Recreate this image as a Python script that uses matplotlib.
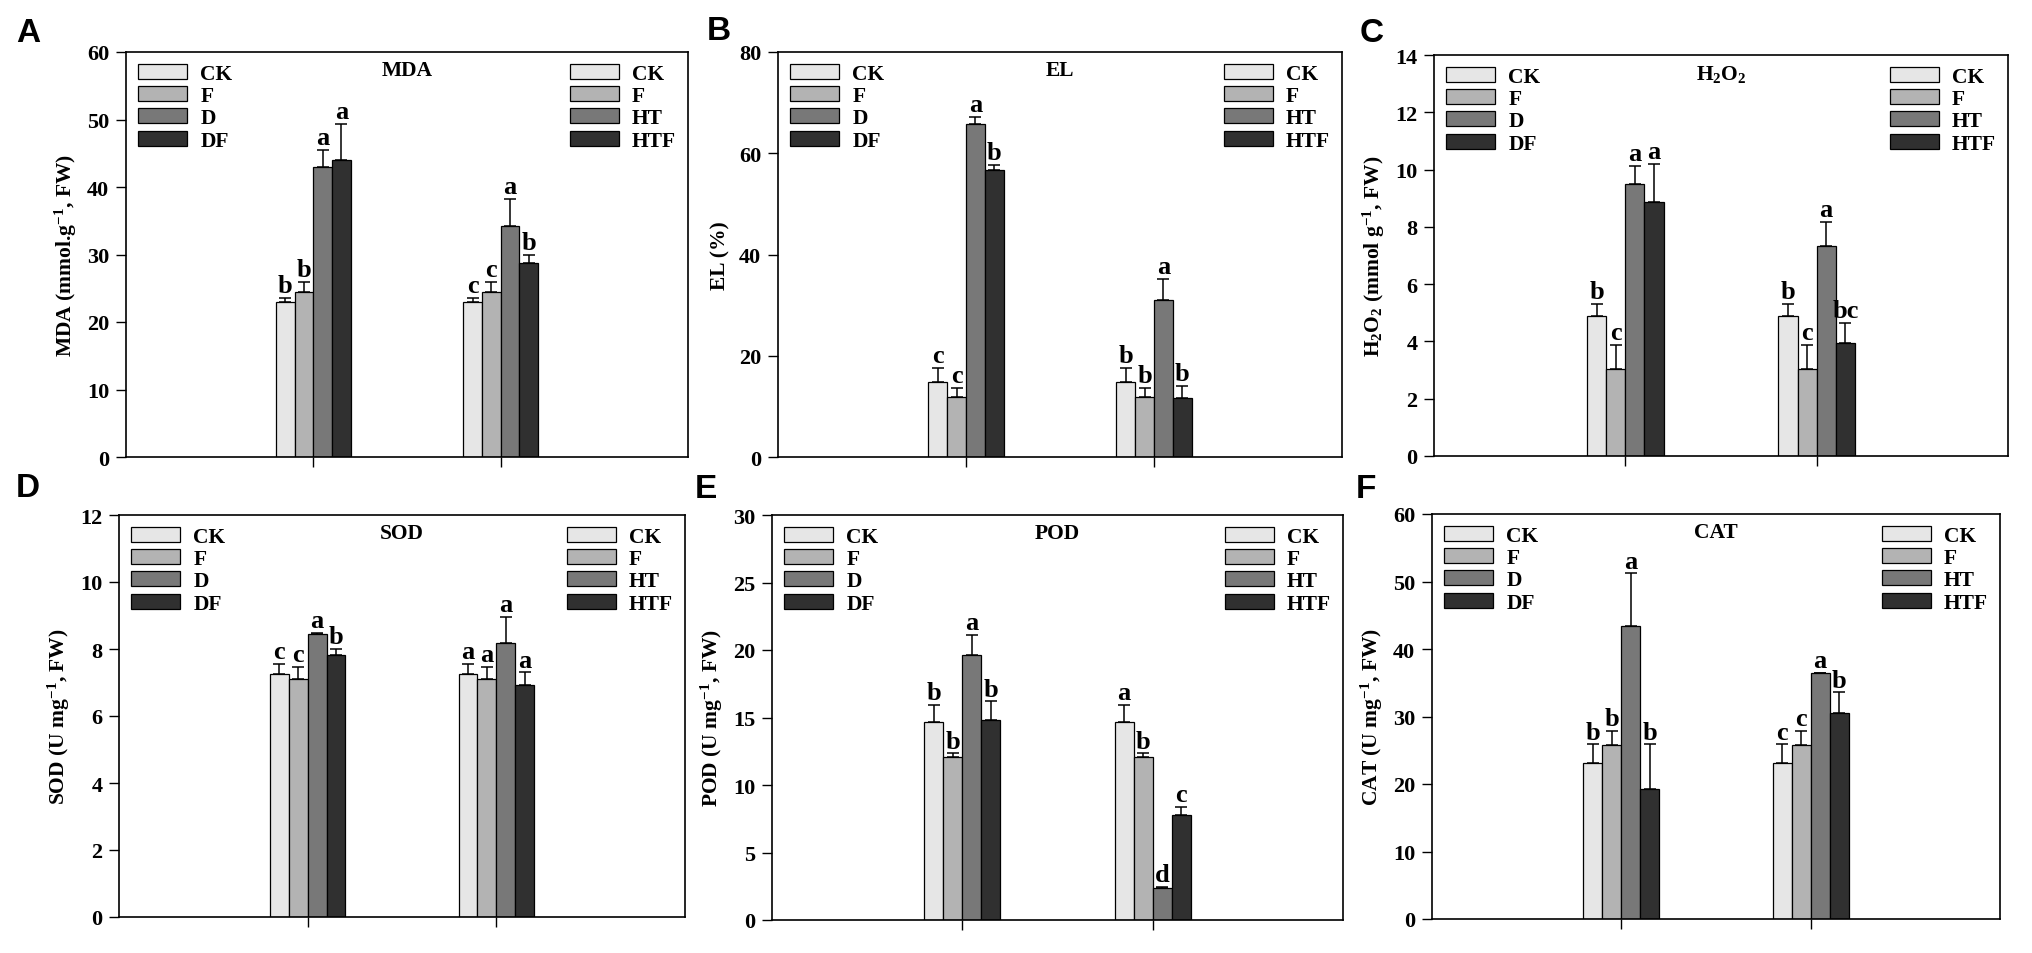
import numpy as np
import matplotlib
matplotlib.use('Agg')
from matplotlib import pyplot as plt

plt.rcParams['font.family'] = 'Liberation Serif'
plt.rcParams['font.weight'] = 'bold'
plt.rcParams['mathtext.fontset'] = 'custom'
plt.rcParams['mathtext.rm'] = 'Liberation Serif:bold'
plt.rcParams['mathtext.it'] = 'Liberation Serif:bold'
plt.rcParams['mathtext.bf'] = 'Liberation Serif:bold'

# treatments: group 1 (drought) and group 2 (high temperature)
labels_g1 = ['CK', 'F', 'D', 'DF']
labels_g2 = ['CK', 'F', 'HT', 'HTF']
bar_colors = ['#e6e6e6', '#b3b3b3', '#787878', '#303030']

# MDA
mda_g1 = [22.9, 24.4, 42.9, 44.0]
mda_g1_se = [0.7, 1.6, 2.6, 5.4]
mda_g2 = [22.9, 24.4, 34.2, 28.8]
mda_g2_se = [0.7, 1.6, 4.0, 1.2]
mda_let_g1 = ['b', 'b', 'a', 'a']
mda_let_g2 = ['c', 'c', 'a', 'b']

# EL
el_g1 = [14.8, 11.9, 65.8, 56.6]
el_g1_se = [2.8, 1.8, 1.4, 1.1]
el_g2 = [14.8, 11.9, 31.1, 11.7]
el_g2_se = [2.8, 1.8, 4.1, 2.4]
el_let_g1 = ['c', 'c', 'a', 'b']
el_let_g2 = ['b', 'b', 'a', 'b']

# H2O2
h2o2_g1 = [4.88, 3.03, 9.50, 8.88]
h2o2_g1_se = [0.42, 0.86, 0.62, 1.31]
h2o2_g2 = [4.88, 3.03, 7.32, 3.93]
h2o2_g2_se = [0.42, 0.86, 0.86, 0.73]
h2o2_let_g1 = ['b', 'c', 'a', 'a']
h2o2_let_g2 = ['b', 'c', 'a', 'bc']

# SOD
sod_g1 = [7.24, 7.11, 8.45, 7.81]
sod_g1_se = [0.32, 0.36, 0.04, 0.20]
sod_g2 = [7.24, 7.11, 8.18, 6.93]
sod_g2_se = [0.32, 0.36, 0.77, 0.37]
sod_let_g1 = ['c', 'c', 'a', 'b']
sod_let_g2 = ['a', 'a', 'a', 'a']

# POD
pod_g1 = [14.64, 12.07, 19.62, 14.79]
pod_g1_se = [1.28, 0.27, 1.52, 1.40]
pod_g2 = [14.64, 12.07, 2.38, 7.80]
pod_g2_se = [1.28, 0.27, 0.10, 0.56]
pod_let_g1 = ['b', 'b', 'a', 'b']
pod_let_g2 = ['a', 'b', 'd', 'c']

# CAT
cat_g1 = [23.16, 25.78, 43.41, 19.26]
cat_g1_se = [2.72, 2.07, 7.80, 6.62]
cat_g2 = [23.16, 25.78, 36.49, 30.57]
cat_g2_se = [2.72, 2.07, 0.0, 3.01]
cat_let_g1 = ['b', 'b', 'a', 'b']
cat_let_g2 = ['c', 'c', 'a', 'b']

panels = [
    ('A', 'MDA', 'MDA (mmol.g$^{-1}$, FW)', 60, 10,
     mda_g1, mda_g1_se, mda_g2, mda_g2_se, mda_let_g1, mda_let_g2),
    ('B', 'EL', 'EL (%)', 80, 20,
     el_g1, el_g1_se, el_g2, el_g2_se, el_let_g1, el_let_g2),
    ('C', 'H$_2$O$_2$', 'H$_2$O$_2$ (mmol g$^{-1}$, FW)', 14, 2,
     h2o2_g1, h2o2_g1_se, h2o2_g2, h2o2_g2_se, h2o2_let_g1, h2o2_let_g2),
    ('D', 'SOD', 'SOD (U mg$^{-1}$, FW)', 12, 2,
     sod_g1, sod_g1_se, sod_g2, sod_g2_se, sod_let_g1, sod_let_g2),
    ('E', 'POD', 'POD (U mg$^{-1}$, FW)', 30, 5,
     pod_g1, pod_g1_se, pod_g2, pod_g2_se, pod_let_g1, pod_let_g2),
    ('F', 'CAT', 'CAT (U mg$^{-1}$, FW)', 60, 10,
     cat_g1, cat_g1_se, cat_g2, cat_g2_se, cat_let_g1, cat_let_g2),
]

# axes boxes in pixels: left, right, top, bottom
W, H = 2033, 954
boxes = [(126, 688, 53, 458), (778, 1342, 53, 458), (1434, 2008, 56, 457),
         (119, 685, 516, 918), (772, 1343, 516, 921), (1432, 2000, 515, 920)]
letter_pos = [(28, 34), (719, 32), (1372, 34), (28, 489), (706, 490), (1366, 490)]

fig = plt.figure(figsize=(W / 100, H / 100), dpi=100, facecolor='w')

groups = np.array([1, 2])
width = 0.1
offsets = [-0.15, -0.05, 0.05, 0.15]

for (tag, title, ylab, ymax, ystep, g1, g1se, g2, g2se, l1, l2), box, lp in zip(panels, boxes, letter_pos):
    l, r, t, b = box
    ax = fig.add_axes([l / W, 1 - b / H, (r - l) / W, (b - t) / H])
    bars = []
    for i in range(4):
        vals = [g1[i], g2[i]]
        errs = [g1se[i], g2se[i]]
        x = groups + offsets[i]
        bc = ax.bar(x, vals, width, color=bar_colors[i], edgecolor='black', linewidth=0.9, zorder=2)
        bars.append(bc)
        ax.errorbar(x, vals, yerr=[[0, 0], errs], fmt='none', ecolor='black',
                    elinewidth=1.1, capsize=4.5, capthick=1.1, zorder=3)
        for xi, v, e, let in zip(x, vals, errs, [l1[i], l2[i]]):
            ax.annotate(let, (xi, v + e), xytext=(0, 0.5), textcoords='offset points',
                        ha='center', va='bottom', fontsize=19, fontweight='bold')
    ax.set_xlim(0, 3)
    ax.set_ylim(0, ymax)
    ax.set_yticks(np.arange(0, ymax + 0.1, ystep))
    ax.set_xticks([1, 2])
    ax.set_xticklabels([])
    ax.tick_params(axis='both', direction='out', length=7, width=1.0, labelsize=16, pad=5)
    for s in ax.spines.values():
        s.set_linewidth(1.2)
    ax.set_ylabel(ylab, fontsize=15.5, fontweight='bold', labelpad=6)
    ax.text(0.5, 0.955, title, transform=ax.transAxes, ha='center', va='center',
            fontsize=15.5, fontweight='bold')
    leg_kw = dict(frameon=False, fontsize=15.5, handlelength=2.3, handleheight=0.7,
                  labelspacing=0.1, handletextpad=0.6, borderaxespad=0.25, borderpad=0.3)
    leg1 = ax.legend(bars, labels_g1, loc='upper left', **leg_kw)
    ax.add_artist(leg1)
    ax.legend(bars, labels_g2, loc='upper right', **leg_kw)
    fig.text(lp[0] / W, 1 - lp[1] / H, tag, ha='center', va='center',
             fontsize=24, fontweight='bold', family='Liberation Sans')

fig.savefig('out.png', dpi=100)
plt.close()
